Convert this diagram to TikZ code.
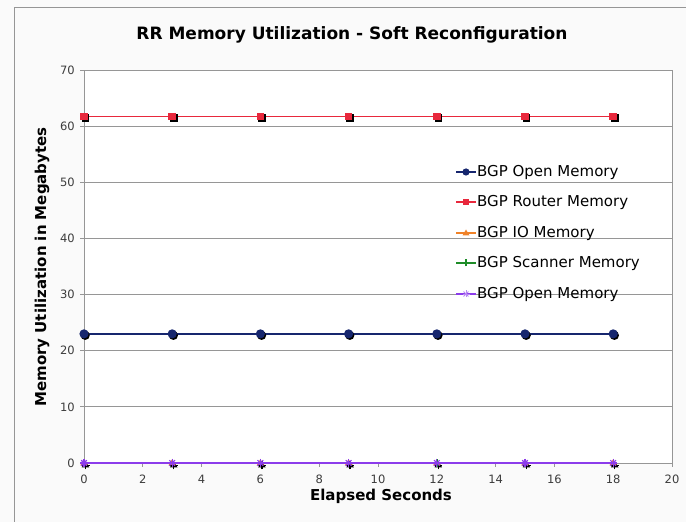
\documentclass[tikz,border=0pt]{standalone}
\usepackage{fontspec}
\setmainfont{DejaVu Sans}
\usetikzlibrary{shapes.geometric}
\definecolor{navyser}{RGB}{22,38,110}
\definecolor{redser}{RGB}{232,40,60}
\definecolor{orangeser}{RGB}{240,130,40}
\definecolor{greenser}{RGB}{30,140,40}
\definecolor{purpleser}{RGB}{140,60,235}
\definecolor{gridgray}{RGB}{150,150,150}
\definecolor{ticktext}{RGB}{60,60,60}
\tikzset{
  gridline/.style={draw=gridgray, line width=0.8pt},
  ticklabel/.style={font=\fontsize{11.5}{13}\selectfont, text=ticktext, inner sep=0pt},
  axislabel/.style={font=\bfseries\fontsize{15}{17}\selectfont, inner sep=0pt},
  legendtext/.style={font=\fontsize{15}{17}\selectfont, anchor=west, inner sep=0pt},
}
\begin{document}
\begin{tikzpicture}[x=1pt,y=1pt]
\useasboundingbox (0,0) rectangle (686,522);
\fill[white!98!black] (0,0) rectangle (686,522);
% chart frame
\draw[gridgray, line width=1pt] (14,-2) -- (14,514) -- (688,514);
% title
\node[font=\bfseries\fontsize{17}{20}\selectfont, inner sep=0pt] (title) at (352,487) {RR Memory Utilization - Soft Reconfiguration};
% plot area
\begin{scope}[shift={(84,59)}, x=29.4pt, y=5.614pt]
  \fill[white] (0,0) rectangle (20,70);
  \foreach \v in {10,20,...,60} \draw[gridline] (0,\v) -- (20,\v);
  \draw[gridline] (0,0) rectangle (20,70);
  \foreach \v in {0,10,...,70} {
    \draw[gridline] (-4pt,\v) -- (0,\v);
    \node[ticklabel, anchor=east] (yl\v) at ([xshift=-9pt]0,\v) {\v};
  }
  \foreach \t in {0,2,...,20} {
    \draw[gridline] (\t,0) -- ([yshift=-4pt]\t,0);
    \node[ticklabel, anchor=north] (xl\t) at ([yshift=-12pt]\t,0) {\t};
  }
  % BGP Open Memory
  \draw[navyser, line width=2.6pt] (0,23) -- (18,23);
  \foreach \t in {0,3,...,18} {
    \fill[black] ([shift={(1.2pt,-1.5pt)}]\t,23) circle (4.6pt);
    \fill[navyser] (\t,23) circle (4.6pt);
  }
  % BGP Router Memory
  \draw[redser, line width=1.6pt] (0,61.7) -- (18,61.7);
  \foreach \t in {0,3,...,18} {
    \fill[black] ([shift={(1.5pt,-1.5pt)}]\t,61.7) ++(-3.8pt,-3.8pt) rectangle ++(7.6pt,7.6pt);
    \fill[redser] (\t,61.7) ++(-3.8pt,-3.8pt) rectangle ++(7.6pt,7.6pt);
  }
  % zero series
  \draw[orangeser, line width=1.6pt] (0,0) -- (18,0);
  \draw[greenser, line width=1.6pt] (0,0) -- (18,0);
  \foreach \t in {0,3,...,18} {
    \fill[black] ([shift={(1.5pt,-2pt)}]\t,0) ++(0,4pt) -- ++(-3.8pt,-6.5pt) -- ++(7.6pt,0) -- cycle;
    \fill[orangeser] (\t,0) ++(0,4pt) -- ++(-3.8pt,-6.5pt) -- ++(7.6pt,0) -- cycle;
    \draw[black, line width=1.4pt] ([shift={(1.5pt,-2.5pt)}]\t,0) ++(-4pt,0) -- ++(8pt,0) ++(-4pt,-4pt) -- ++(0,8pt);
    \draw[greenser, line width=1.4pt] (\t,0) ++(-4pt,0) -- ++(8pt,0) ++(-4pt,-4pt) -- ++(0,8pt);
  }
  \draw[purpleser, line width=1.6pt] (0,0) -- (18,0);
  \foreach \t in {0,3,...,18} {
    \foreach \a in {0,45,...,135}
      \draw[purpleser, line width=1.1pt] ([shift={(\a:4pt)}]\t,0) -- ([shift={(\a+180:4pt)}]\t,0);
  }
\end{scope}
% axis titles
\node[axislabel] (xtitle) at (381,26) {Elapsed Seconds};
\node[axislabel, rotate=90] (ytitle) at (42,255) {Memory Utilization in Megabytes};
% legend
\foreach \yy/\name in {350/1,320/2,289/3,259/4,228/5} \coordinate (lg\name) at (456,\yy);
\draw[navyser, line width=2.6pt] (lg1) -- ++(20,0);
\fill[navyser] ([xshift=10pt]lg1) circle (3.6pt);
\node[legendtext] (t1) at ([xshift=21pt]lg1) {BGP Open Memory};
\draw[redser, line width=1.6pt] (lg2) -- ++(20,0);
\fill[redser] ([shift={(7pt,-3pt)}]lg2) rectangle ++(6pt,6pt);
\node[legendtext] (t2) at ([xshift=21pt]lg2) {BGP Router Memory};
\draw[orangeser, line width=1.6pt] (lg3) -- ++(20,0);
\fill[orangeser] ([shift={(10pt,3.5pt)}]lg3) -- ++(-3.5pt,-6pt) -- ++(7pt,0) -- cycle;
\node[legendtext] (t3) at ([xshift=21pt]lg3) {BGP IO Memory};
\draw[greenser, line width=1.4pt] (lg4) -- ++(20,0);
\draw[greenser, line width=1.2pt] ([shift={(10pt,-3.5pt)}]lg4) -- ++(0,7pt);
\node[legendtext] (t4) at ([xshift=21pt]lg4) {BGP Scanner Memory};
\draw[purpleser, line width=1.6pt] (lg5) -- ++(20,0);
\foreach \a in {0,45,...,135}
  \draw[purpleser!60, line width=0.8pt] ([shift={(10pt,0)}]lg5) ++(\a:3.5pt) -- ++(\a+180:7pt);
\node[legendtext] (t5) at ([xshift=21pt]lg5) {BGP Open Memory};
\end{tikzpicture}
\end{document}
